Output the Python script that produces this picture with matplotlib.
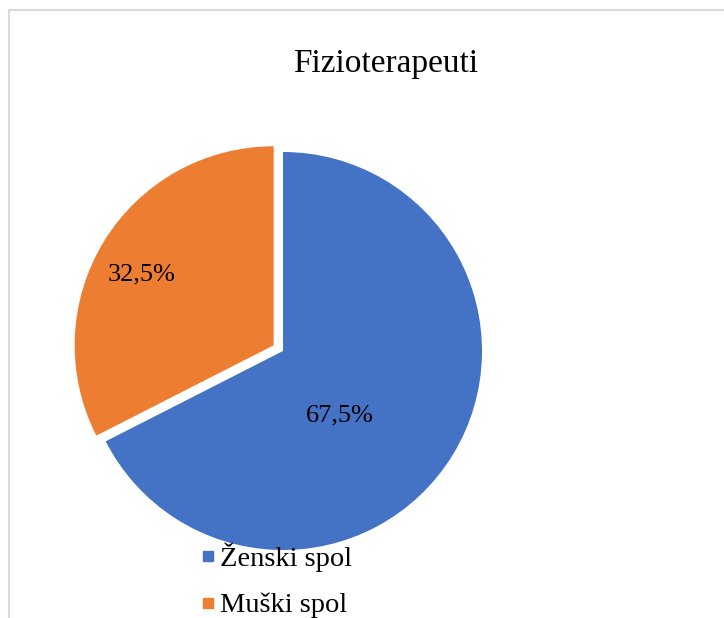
import matplotlib
matplotlib.use('Agg')
import matplotlib.pyplot as plt
from matplotlib.lines import Line2D
from matplotlib.patches import Rectangle
import numpy as np

plt.rcParams['font.family'] = ['Liberation Serif', 'DejaVu Serif']

# ── data ──
categories = ['Ženski spol', 'Muški spol']
shares = [67.5, 32.5]
colors = ['#4472C4', '#ED7D31']
explode = [0, 0.055]
title = 'Fizioterapeuti'

fig = plt.figure(figsize=(7.24, 6.18), dpi=100)

# chart area border (light gray, cut at right/bottom)
fig.patches.append(Rectangle((9 / 724, -0.1), 1.0, 1 - 10 / 618 + 0.1,
                             transform=fig.transFigure, fill=False,
                             edgecolor='#d9d9d9', linewidth=1.5))

ax = fig.add_axes([84 / 724, 68 / 618, 398 / 724, 398 / 618])
wedges, texts = ax.pie(shares, colors=colors, explode=explode, startangle=90,
                       counterclock=False, wedgeprops=dict(linewidth=0))
ax.set_xlim(-1, 1)
ax.set_ylim(-1, 1)
ax.set_aspect('equal')

# data labels (Excel "best fit" placement): (radius, angle in degrees)
label_pos = [(0.43, -48.8), (0.81, 151.5)]
for v, (r, a) in zip(shares, label_pos):
    ax.text(r * np.cos(np.radians(a)), r * np.sin(np.radians(a)),
            f'{v:.1f}%'.replace('.', ','), ha='center', va='center',
            fontsize=19, color='black')

fig.text(385.5 / 724, 1 - 72 / 618, title, ha='center', va='baseline', fontsize=24)

handles = [Line2D([], [], marker='s', linestyle='none', markersize=6.5,
                  markerfacecolor=c, markeredgecolor=c) for c in colors]
fig.legend(handles, categories, loc='upper left',
           bbox_to_anchor=(199 / 724, 1 - 542 / 618), frameon=False,
           fontsize=20.5, handlelength=0.6, handletextpad=0.12,
           labelspacing=0.74, borderpad=0, borderaxespad=0)

fig.savefig('out.png', dpi=100, facecolor='white')
